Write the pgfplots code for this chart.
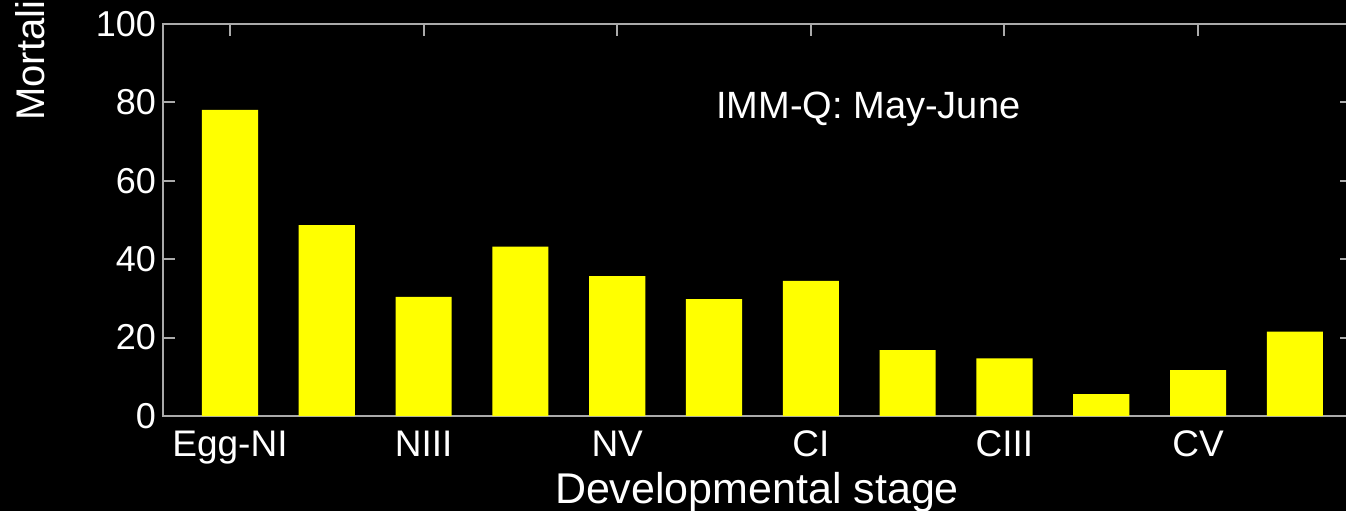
\documentclass[border=0pt]{standalone}
\usepackage{pgfplots}
\pgfplotsset{compat=1.18}
\usepackage{fontspec}
\setmainfont{Liberation Sans}

\definecolor{axisgray}{RGB}{170,170,170}
\definecolor{baryellow}{RGB}{255,255,0}

% Mortality per developmental stage
\pgfplotstableread{
x  y
0  78.1
1  48.7
2  30.4
3  43.2
4  35.7
5  29.8
6  34.5
7  16.8
8  14.7
9  5.6
10 11.7
11 21.5
}\mortality

\begin{document}
\begin{tikzpicture}
  \useasboundingbox (-81.5pt,-47.5pt) rectangle (591.5pt,208pt);
  \fill[black] (-81.5pt,-47.5pt) rectangle (591.5pt,208pt);
  \clip (-81.5pt,-47.5pt) rectangle (591.5pt,208pt);
  \begin{axis}[
      at={(0pt,0pt)}, anchor=south west,
      scale only axis,
      width=594.5pt, height=196pt,
      xmin=-0.692, xmax=11.59,
      ymin=0, ymax=100,
      ybar, bar width=0.58,
      xtick={0,2,...,10},
      xticklabels={Egg-NI,NIII,NV,CI,CIII,CV},
      ytick={0,20,...,100},
      tick align=inside,
      major tick length=6pt,
      axis line style={axisgray, line width=1pt},
      every tick/.style={axisgray, line width=1pt},
      /pgf/number format/assume math mode=true,
      yticklabel style={white, font=\fontsize{18}{21}\selectfont},
      xticklabel style={white, font=\fontsize{18.5}{21}\selectfont,
                        anchor=base, yshift=-20.3pt},
      clip=false,
    ]
    \addplot[fill=baryellow, draw=none] table[x=x, y=y] {\mortality};
    \node[anchor=base west, inner sep=0pt, white, font=\fontsize{19}{23}\selectfont]
      at (axis cs:5.02,76) {IMM-Q: May-June};
  \end{axis}
  \node[anchor=base, inner sep=0pt, white, font=\fontsize{21.5}{26}\selectfont]
    at (297pt,-43.5pt) {Developmental stage};
  \node[anchor=base west, inner sep=0pt, rotate=90, white, font=\fontsize{20}{24}\selectfont]
    at (-59pt,147.5pt) {Mortality (\%)};
\end{tikzpicture}
\end{document}
